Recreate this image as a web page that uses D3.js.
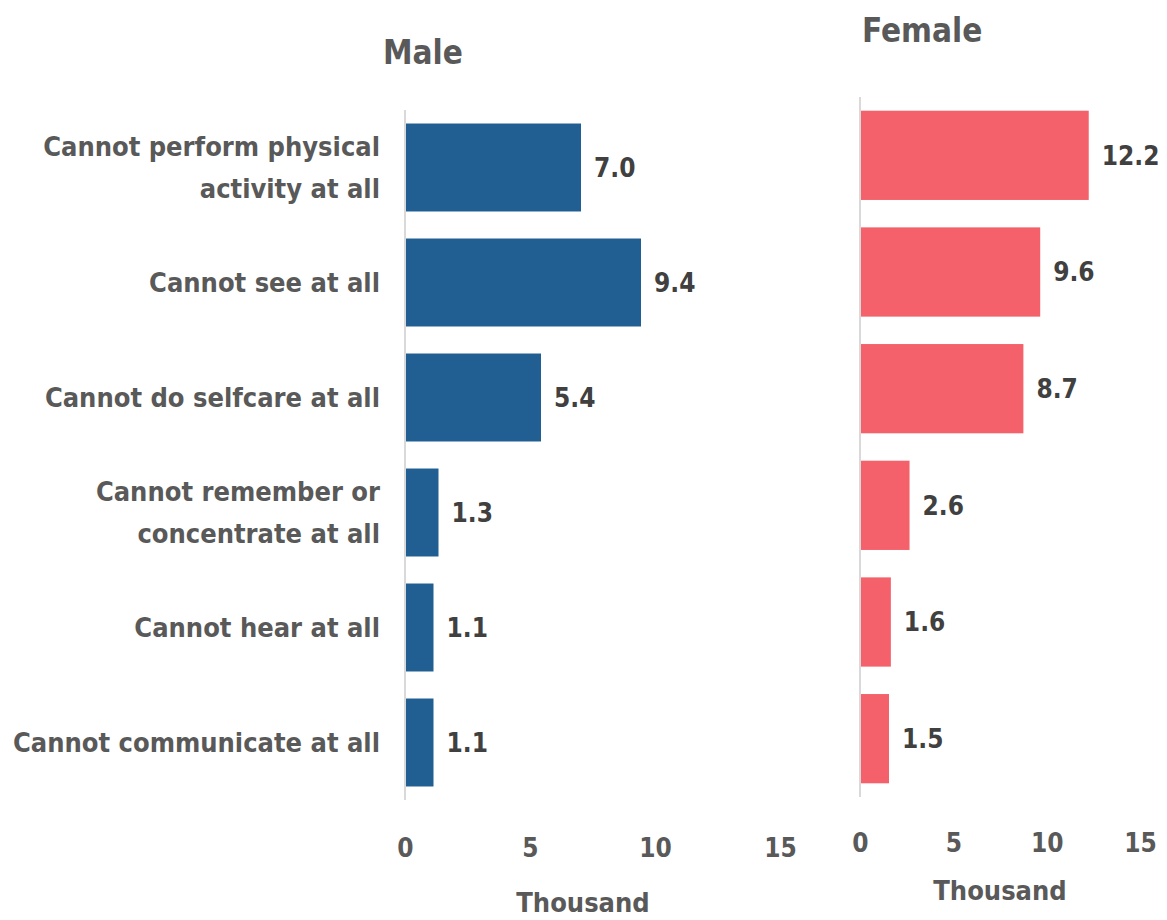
<!DOCTYPE html>
<html>
<head>
<meta charset="utf-8">
<script src="https://cdn.jsdelivr.net/npm/d3@7"></script>
<style>
  body { margin: 0; background: #fff; }
  text { font-family: "DejaVu Sans Condensed", "DejaVu Sans", sans-serif; font-stretch: condensed; }
</style>
</head>
<body>
<div id="chart"></div>
<script>
// categories, top to bottom
var categories = [
    "Cannot perform physical activity at all",
    "Cannot see at all",
    "Cannot do selfcare at all",
    "Cannot remember or concentrate at all",
    "Cannot hear at all",
    "Cannot communicate at all"
];
// wrapped lines for the labels
var categoryLines = [
    ["Cannot perform physical", "activity at all"],
    ["Cannot see at all"],
    ["Cannot do selfcare at all"],
    ["Cannot remember or", "concentrate at all"],
    ["Cannot hear at all"],
    ["Cannot communicate at all"]
];
var maleValues = [7.0, 9.4, 5.4, 1.3, 1.1, 1.1];
var femaleValues = [12.2, 9.6, 8.7, 2.6, 1.6, 1.5];
var xTicks = [0, 5, 10, 15];
var unitLabel = "Thousand";

var svg = d3.select("#chart").append("svg")
    .attr("width", 1167)
    .attr("height", 920);

function drawPanel(opt){
    var g = svg.append("g");

    var x = d3.scaleLinear()
        .domain([0, 15])
        .range([opt.x0, opt.x1]);

    var y = d3.scaleBand()
        .domain(categories)
        .range([opt.y0, opt.y1])
        .paddingInner(0.235)
        .paddingOuter(0.1175);

    // baseline
    g.append("line")
        .attr("x1", x(0)).attr("x2", x(0))
        .attr("y1", opt.y0).attr("y2", opt.y1)
        .attr("stroke", "#d9d9d9")
        .attr("stroke-width", 2);

    g.selectAll(".bar")
        .data(opt.values)
        .enter()
        .append("rect")
        .attr("class", "bar")
        .attr("x", x(0) + 1)
        .attr("y", function(d, i){ return y(categories[i]); })
        .attr("width", function(d){ return x(d) - x(0); })
        .attr("height", y.bandwidth())
        .attr("fill", opt.color);

    g.selectAll(".val")
        .data(opt.values)
        .enter()
        .append("text")
        .attr("class", "val")
        .attr("x", function(d){ return x(d) + 14; })
        .attr("y", function(d, i){ return y(categories[i]) + y.bandwidth()/2; })
        .attr("dy", "0.36em")
        .attr("fill", "#404040")
        .attr("font-size", 26)
        .attr("font-weight", "bold")
        .text(function(d){ return d.toFixed(1); });

    // x axis tick labels
    var xAxis = d3.axisBottom(x)
        .tickValues(xTicks)
        .tickSize(0)
        .tickPadding(0);
    var ax = g.append("g")
        .attr("transform", "translate(0," + opt.tickY + ")")
        .call(xAxis);
    ax.select(".domain").remove();
    ax.selectAll("text")
        .attr("font-family", "DejaVu Sans Condensed, DejaVu Sans, sans-serif")
        .attr("font-size", 26)
        .attr("font-weight", "bold")
        .attr("fill", "#595959")
        .attr("dy", "0.36em")
        .attr("y", 0);

    g.append("text")
        .attr("x", opt.unitX)
        .attr("y", opt.unitY)
        .attr("text-anchor", "middle")
        .attr("dy", "0.36em")
        .attr("font-size", 27)
        .attr("font-weight", "bold")
        .attr("fill", "#595959")
        .text(unitLabel);

    g.append("text")
        .attr("x", opt.titleX)
        .attr("y", opt.titleY)
        .attr("dy", "0.36em")
        .attr("font-size", 33)
        .attr("font-weight", "bold")
        .attr("fill", "#595959")
        .text(opt.title);

    if (opt.showLabels){
        var lab = g.selectAll(".cat")
            .data(categories)
            .enter()
            .append("text")
            .attr("class", "cat")
            .attr("text-anchor", "end")
            .attr("font-size", 27)
            .attr("font-weight", "bold")
            .attr("fill", "#595959")
            .attr("y", function(d){ return y(d) + y.bandwidth()/2; });
        lab.each(function(d, i){
            var lines = categoryLines[i];
            var t = d3.select(this);
            lines.forEach(function(l, j){
                t.append("tspan")
                    .attr("x", 380)
                    .attr("dy", j == 0 ? (0.36 - (lines.length - 1) * 0.78) + "em" : "1.56em")
                    .text(l);
            });
        });
    }
}

drawPanel({
    title: "Male", titleX: 383, titleY: 52,
    values: maleValues, color: "#215f92",
    x0: 405, x1: 780, y0: 110, y1: 800,
    tickY: 848, unitX: 583, unitY: 902,
    showLabels: true
});

drawPanel({
    title: "Female", titleX: 862, titleY: 30,
    values: femaleValues, color: "#f5616b",
    x0: 860, x1: 1140, y0: 97, y1: 797,
    tickY: 843, unitX: 1000, unitY: 890,
    showLabels: false
});
</script>
</body>
</html>
